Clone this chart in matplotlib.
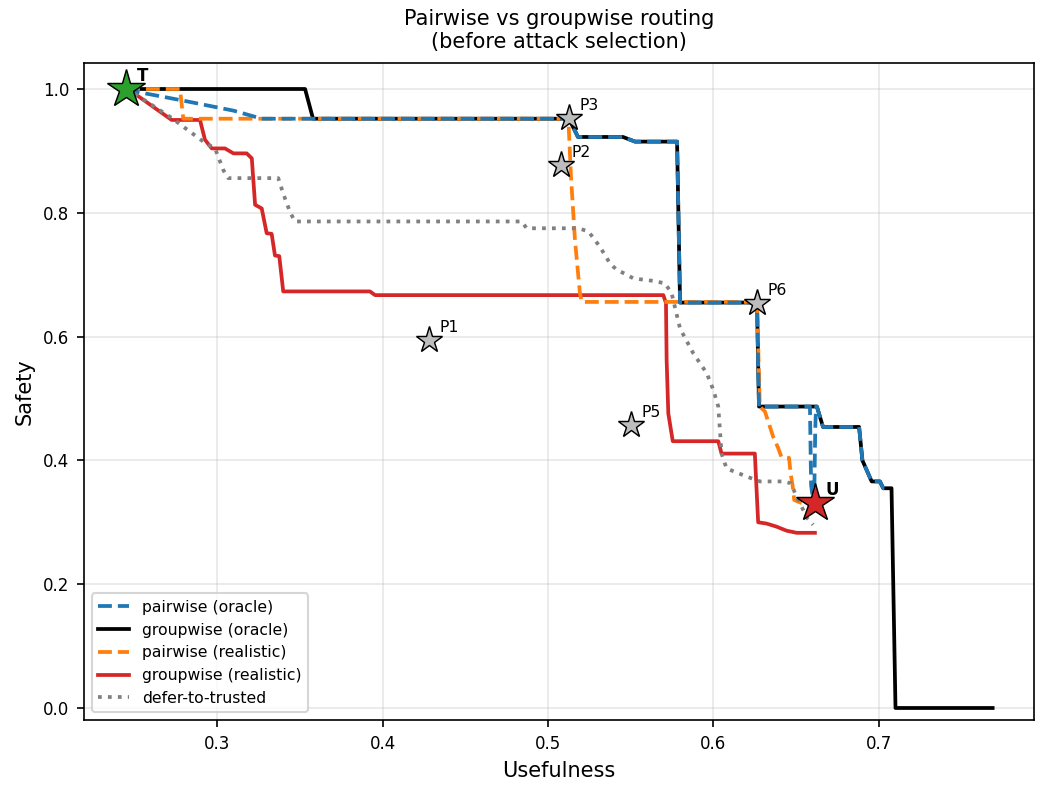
import matplotlib
matplotlib.use("Agg")
import matplotlib.pyplot as plt

# ---------------- data ----------------
pair_oracle_x = [0.245, 0.2485, 0.280, 0.310, 0.327, 0.5127, 0.5181, 0.5453, 0.5526, 0.578, 0.5798,
                 0.6263, 0.6275, 0.6583, 0.6585, 0.659, 0.6605, 0.661, 0.6615, 0.662, 0.6625,
                 0.6662, 0.688, 0.690, 0.6956, 0.7006, 0.7026, 0.7046]
pair_oracle_y = [1.0, 0.997, 0.981, 0.965, 0.952, 0.952, 0.9225, 0.9225, 0.915, 0.915, 0.655,
                 0.655, 0.487, 0.487, 0.45, 0.36, 0.33, 0.36, 0.45, 0.487, 0.487,
                 0.454, 0.454, 0.40, 0.366, 0.366, 0.355, 0.355]

group_oracle_x = [0.245, 0.3532, 0.358, 0.5127, 0.5181, 0.5453, 0.5526, 0.578, 0.5798, 0.6263, 0.6275,
                  0.6625, 0.6662, 0.688, 0.690, 0.6956, 0.7006, 0.7026, 0.7076, 0.710, 0.7687]
group_oracle_y = [1.0, 1.0, 0.952, 0.952, 0.9225, 0.9225, 0.915, 0.915, 0.655, 0.655, 0.487,
                  0.487, 0.454, 0.454, 0.40, 0.366, 0.366, 0.355, 0.355, 0.0, 0.0]

pair_real_x = [0.245, 0.2776, 0.2796, 0.5123, 0.5139, 0.5163, 0.5193, 0.5204, 0.6263, 0.628, 0.6311,
               0.6361, 0.6391, 0.6410, 0.6457, 0.6466, 0.6478, 0.6488, 0.6533]
pair_real_y = [1.0, 1.0, 0.952, 0.952, 0.858, 0.756, 0.670, 0.656, 0.656, 0.487, 0.479,
               0.438, 0.420, 0.406, 0.404, 0.379, 0.360, 0.336, 0.331]

group_real_x = [0.245, 0.2515, 0.2726, 0.2897, 0.2927, 0.2968, 0.3048, 0.3099, 0.3179, 0.321, 0.323,
                0.327, 0.330, 0.333, 0.335, 0.3376, 0.340, 0.3924, 0.3955, 0.5697, 0.5713, 0.5717,
                0.5727, 0.5754, 0.6029, 0.6049, 0.625, 0.6270, 0.632, 0.6381, 0.6441, 0.6503, 0.6613]
group_real_y = [1.0, 0.990, 0.950, 0.950, 0.918, 0.904, 0.904, 0.896, 0.896, 0.888, 0.813,
                0.807, 0.767, 0.766, 0.731, 0.730, 0.673, 0.673, 0.667, 0.667, 0.654, 0.562,
                0.476, 0.431, 0.431, 0.411, 0.411, 0.300, 0.298, 0.293, 0.2865, 0.283, 0.283]

defer_x = [0.245, 0.2515, 0.2716, 0.2837, 0.2917, 0.2988, 0.3038, 0.3068, 0.337, 0.340, 0.344, 0.347,
           0.4841, 0.4871, 0.5183, 0.5244, 0.5314, 0.5375, 0.5415, 0.5476, 0.5516, 0.5636, 0.5707,
           0.5747, 0.5798, 0.5878, 0.5959, 0.5999, 0.6029, 0.6049, 0.6079, 0.6200, 0.6281, 0.6420,
           0.6468, 0.6498, 0.6568, 0.6602]
defer_y = [1.0, 0.990, 0.955, 0.931, 0.915, 0.904, 0.869, 0.856, 0.856, 0.831, 0.802, 0.786,
           0.786, 0.775, 0.775, 0.770, 0.745, 0.718, 0.708, 0.700, 0.694, 0.690, 0.686,
           0.670, 0.613, 0.573, 0.541, 0.514, 0.487, 0.411, 0.387, 0.374, 0.366, 0.366,
           0.363, 0.344, 0.306, 0.296]

proto_names = ["P1", "P2", "P3", "P5", "P6"]
proto_x = [0.428, 0.5079, 0.5127, 0.550, 0.6263]
proto_y = [0.594, 0.877, 0.953, 0.457, 0.654]

trusted_pt = (0.245, 1.0)
untrusted_pt = (0.6613, 0.331)

# ---------------- plot ----------------
DPI = 150
fig = plt.figure(figsize=(1048 / DPI, 793 / DPI), dpi=DPI)
ax = fig.add_axes([84 / 1048, 1 - 720 / 793, (1034 - 84) / 1048, (720 - 63) / 793])

lw = 1.8
ax.plot(pair_oracle_x, pair_oracle_y, color="#1f77b4", ls="--", lw=lw, label="pairwise (oracle)", zorder=4)
ax.plot(group_oracle_x, group_oracle_y, color="black", ls="-", lw=lw, label="groupwise (oracle)", zorder=2)
ax.plot(pair_real_x, pair_real_y, color="#ff7f0e", ls="--", lw=lw, label="pairwise (realistic)", zorder=3)
ax.plot(group_real_x, group_real_y, color="#d62728", ls="-", lw=lw, label="groupwise (realistic)", zorder=2.5)
ax.plot(defer_x, defer_y, color="gray", ls=":", lw=lw, label="defer-to-trusted", zorder=5)

for n, x, y in zip(proto_names, proto_x, proto_y):
    ax.plot([x], [y], marker="*", ms=13, color="#bdbdbd", mec="black", mew=0.7, ls="none", zorder=6)
    ax.annotate(n, (x, y), xytext=(5, 4), textcoords="offset points", fontsize=7.5, zorder=7)

ax.plot([trusted_pt[0]], [trusted_pt[1]], marker="*", ms=19, color="#2ca02c", mec="black", mew=0.7, ls="none", zorder=6)
ax.annotate("T", trusted_pt, xytext=(5, 4), textcoords="offset points", fontsize=8, fontweight="bold", zorder=7)
ax.plot([untrusted_pt[0]], [untrusted_pt[1]], marker="*", ms=19, color="#d62728", mec="black", mew=0.7, ls="none", zorder=6)
ax.annotate("U", untrusted_pt, xytext=(5, 4), textcoords="offset points", fontsize=8, fontweight="bold", zorder=7)

ax.set_xlim(0.2196, 0.7937)
ax.set_ylim(-0.0194, 1.042)
ax.set_xticks([0.3, 0.4, 0.5, 0.6, 0.7])
ax.set_yticks([0.0, 0.2, 0.4, 0.6, 0.8, 1.0])
ax.tick_params(labelsize=8)
ax.grid(True, alpha=0.3)
ax.set_xlabel("Usefulness", fontsize=10)
ax.set_ylabel("Safety", fontsize=10)
ax.set_title("Pairwise vs groupwise routing\n(before attack selection)", fontsize=10, pad=7)
ax.legend(loc="lower left", fontsize=7.5)

fig.savefig("out.png", dpi=DPI)
